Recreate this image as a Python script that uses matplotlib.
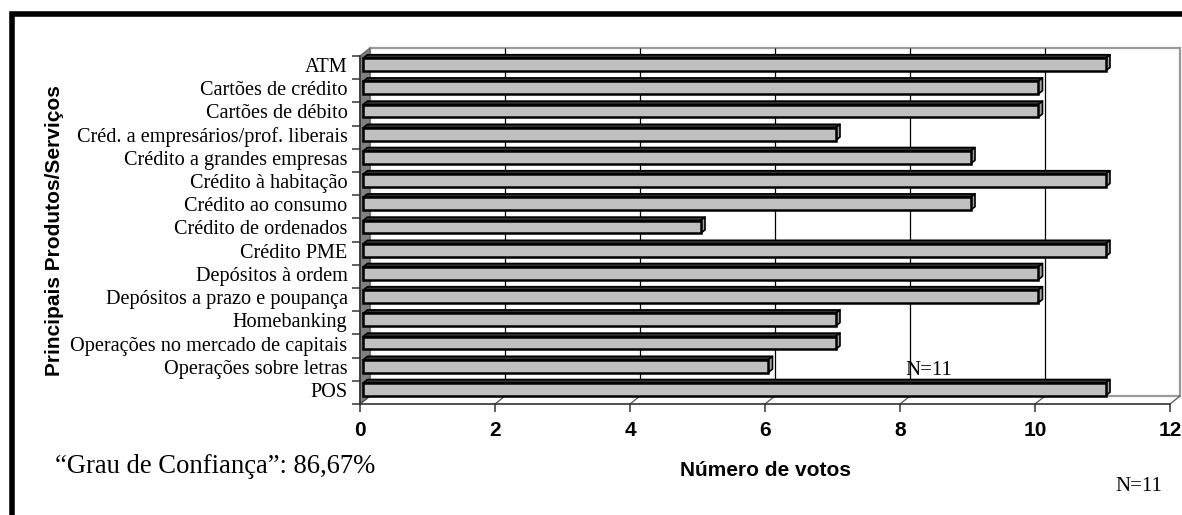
import numpy as np
import matplotlib
matplotlib.use("Agg")
import matplotlib.pyplot as plt
from matplotlib.patches import Rectangle, Polygon
from matplotlib.collections import PolyCollection
from matplotlib.lines import Line2D

# Survey results: number of votes per product/service
produtos = [
    "ATM",
    "Cartões de crédito",
    "Cartões de débito",
    "Créd. a empresários/prof. liberais",
    "Crédito a grandes empresas",
    "Crédito à habitação",
    "Crédito ao consumo",
    "Crédito de ordenados",
    "Crédito PME",
    "Depósitos à ordem",
    "Depósitos a prazo e poupança",
    "Homebanking",
    "Operações no mercado de capitais",
    "Operações sobre letras",
    "POS",
]
votos = [11, 10, 10, 7, 9, 11, 9, 5, 11, 10, 10, 7, 7, 6, 11]
x_ticks = [0, 2, 4, 6, 8, 10, 12]

W, H, DPI = 1182, 515, 100
SERIF = "Liberation Serif"
SANS = "Liberation Sans"

fig = plt.figure(figsize=(W / DPI, H / DPI), dpi=DPI)
fig.patch.set_facecolor("white")

# front plane of the 3-D box in pixels
ax_l, ax_r, ax_t, ax_b = 360, 1170, 56, 404
ax = fig.add_axes([ax_l / W, 1 - ax_b / H, (ax_r - ax_l) / W, (ax_b - ax_t) / H])
ax.patch.set_visible(False)

n = len(produtos)
y = np.arange(n)
ax.set_xlim(0, 12)
ax.set_ylim(n - 0.5, -0.5)

# pixel -> data conversion for the depth effect
px_x = 12 / (ax_r - ax_l)
px_y = n / (ax_b - ax_t)
DX, DY = 10 * px_x, 8 * px_y          # wall depth
BX, BY = 4.5 * px_x, 3.5 * px_y       # bar depth
OX, OY = 3 * px_x, 3 * px_y           # bar front-face offset

# back wall
ax.add_patch(Rectangle((DX, -0.5 - DY), 12, n, facecolor="white",
                       edgecolor="#9a9a9a", lw=1.6, zorder=0, clip_on=False))
# left side wall
ax.add_patch(Polygon([(0, -0.5), (DX, -0.5 - DY), (DX, n - 0.5 - DY), (0, n - 0.5)],
                     closed=True, facecolor="#808080", edgecolor="#6a6a6a",
                     lw=1.0, zorder=1, clip_on=False))
# gridlines on the back wall
grid_x = np.array(x_ticks[1:-1], dtype=float)
ax.vlines(grid_x + DX, -0.5 - DY, n - 0.5 - DY, colors="black", lw=0.9,
          zorder=0.5, clip_on=False)
# floor edges
for t in x_ticks:
    ax.plot([t, t + DX], [n - 0.5, n - 0.5 - DY], color="#555555", lw=0.9,
            zorder=1, clip_on=False)

# bars: front face
yc = y - OY
h = 0.55
ax.barh(yc, votos, left=OX, height=h, color="#c0c0c0", edgecolor="black",
        lw=1.8, zorder=5, clip_on=False)

# bars: top and end faces
tops, ends = [], []
for yi, v in zip(yc, votos):
    x0, x1 = OX, OX + v
    yt, yb = yi - h / 2, yi + h / 2
    tops.append([(x0, yt), (x1, yt), (x1 + BX, yt - BY), (x0 + BX, yt - BY)])
    ends.append([(x1, yt), (x1, yb), (x1 + BX, yb - BY), (x1 + BX, yt - BY)])
ax.add_collection(PolyCollection(tops, facecolors="#303030", edgecolors="black",
                                 linewidths=1.2, zorder=4, clip_on=False))
ax.add_collection(PolyCollection(ends, facecolors="#a0a0a0", edgecolors="black",
                                 linewidths=1.2, zorder=4, clip_on=False))

# axes, ticks and labels
for s in ("top", "right"):
    ax.spines[s].set_visible(False)
ax.spines["bottom"].set_color("#333333")
ax.spines["bottom"].set_linewidth(1.2)
ax.spines["left"].set_color("#333333")
ax.spines["left"].set_linewidth(1.2)
ax.spines["left"].set_zorder(2)

ax.set_xticks(x_ticks)
ax.set_xticklabels([str(t) for t in x_ticks], fontfamily=SANS,
                   fontweight="bold", fontsize=15)
ax.tick_params(axis="x", direction="out", length=6, width=1.1,
               color="#333333", pad=6)

ax.set_yticks(y)
ax.set_yticklabels(produtos, fontfamily=SERIF, fontsize=14.6)
for lbl in ax.get_yticklabels():
    lbl.set_verticalalignment("center")
ax.set_yticks(np.arange(n + 1) - 0.5, minor=True)
ax.tick_params(axis="y", which="major", length=0, pad=9)
ax.tick_params(axis="y", which="minor", direction="out", length=6, width=1.1,
               color="#333333")

fig.text(55 / W, 1 - 231 / H, "Principais Produtos/Serviços", rotation=90,
         ha="center", va="center", fontfamily=SANS, fontweight="bold",
         fontsize=15)
fig.text(766 / W, 1 - 470 / H, "Número de votos", ha="center", va="center",
         fontfamily=SANS, fontweight="bold", fontsize=15)
fig.text(55 / W, 1 - 473 / H, "\u201cGrau de Confiança\u201d: 86,67%",
         ha="left", va="baseline", fontfamily=SERIF, fontsize=19.2)
fig.text(905 / W, 1 - 375 / H, "N=11", ha="left", va="baseline",
         fontfamily=SERIF, fontsize=15, zorder=6)
fig.text(1115 / W, 1 - 491 / H, "N=11", ha="left", va="baseline",
         fontfamily=SERIF, fontsize=15)

# outer frame (left and top edges)
fx = [11.5 / W, 11.5 / W, 1.0]
fy = [0.0, 1 - 14 / H, 1 - 14 / H]
fig.add_artist(Line2D(fx, fy, transform=fig.transFigure, color="black",
                      lw=4.0, solid_joinstyle="miter"))

fig.savefig("out.png", dpi=DPI, facecolor="white")
